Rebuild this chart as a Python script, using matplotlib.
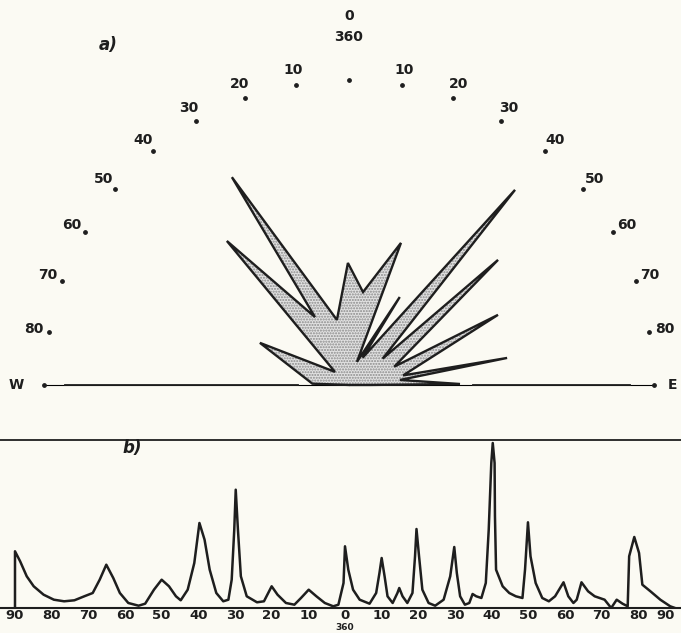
import numpy as np
import matplotlib
matplotlib.use("Agg")
import matplotlib.pyplot as plt

# ---------------- data ----------------
# a) rose outline vertices: azimuth (deg, W negative, E positive), radius (fraction of outer circle)
rose_az = [-88, -64.7, -47, -40.3, -26.6, -29.4, -10.5, -0.5, 8.6, 20.1, 19, 30, 26.6,
           40.4, 52, 50, 68, 64.8, 80, 80.3, 84.4, 89.5, 90, 90]
rose_r = [0.12, 0.323, 0.063, 0.619, 0.249, 0.782, 0.217, 0.40, 0.308, 0.496, 0.08, 0.333, 0.10,
          0.84, 0.14, 0.638, 0.16, 0.54, 0.18, 0.526, 0.168, 0.364, 0.07, 0.0]

# azimuth marks around the half circle
mark_az = list(range(-90, 91, 10))
mark_labels = ["W", "80", "70", "60", "50", "40", "30", "20", "10", "0\n360",
               "10", "20", "30", "40", "50", "60", "70", "80", "E"]

# E-W base line segments (azimuth, r start, r end)
base_left = (-90, 0.167, 0.931)
base_right = (90, 0.407, 0.921)

# b) linear profile: angle (deg, W negative) and frequency
prof_x = [-90, -90, -88.6, -86.8, -84.9, -82.2, -79.4, -76.6, -73.8, -71.1, -68.8, -66.9, -65.1,
          -63.2, -61.4, -59.1, -56.3, -54.5, -52.1, -50.0, -48.0, -46.1, -44.8, -42.9, -41.1,
          -39.7, -38.3, -36.9, -35.1, -33.2, -31.8, -30.9, -30.2, -29.8, -29.2, -28.4, -26.8,
          -24.0, -22.1, -20.0, -18.4, -16.1, -13.8, -12.0, -9.9, -7.8, -5.5, -3.2, -1.8, -0.4,
          0.0, 0.9, 2.2, 4.0, 6.7, 8.5, 9.4, 10.0, 10.8, 11.6, 13.0, 14.3, 14.8, 15.7, 17.0,
          18.4, 19.1, 19.5, 20.2, 21.1, 22.8, 24.6, 26.9, 28.7, 29.8, 30.5, 31.4, 32.7, 33.9,
          34.8, 35.8, 37.2, 38.4, 39.2, 39.9, 40.3, 40.8, 40.9, 41.2, 43.0, 44.8, 46.6, 48.4,
          49.1, 49.9, 50.6, 52.0, 53.8, 55.6, 57.3, 59.6, 60.9, 62.3, 63.2, 64.5, 66.3, 68.1,
          70.8, 72.6, 74.1, 75.7, 77.1, 77.5, 78.9, 80.2, 81.1, 83.3, 86.0, 88.7, 90.0]
prof_y = [0, 56.7, 46.7, 31.7, 21.7, 13.3, 8.3, 6.7, 7.7, 11.7, 15, 28.3, 43.3,
          30, 15, 5, 2.3, 4.3, 18.3, 28.3, 21.7, 11.7, 7.7, 18.3, 45,
          85, 68.3, 38.3, 15, 6.7, 8.3, 28.3, 78.3, 118.3, 78.3, 31.7, 11.7,
          5.7, 6.7, 21.7, 13.3, 5, 3.3, 10, 18.3, 11.7, 5, 1.7, 3.3, 25,
          61.7, 38.3, 18.3, 8.3, 4.3, 15, 35, 50, 31.7, 11.7, 5, 15, 20, 11.7, 5,
          15, 51.7, 79, 51.7, 18.3, 5, 2.3, 8.3, 31.7, 61, 35, 11.7, 3.3, 5,
          14, 11.7, 10, 25, 78.3, 145, 165, 145, 92, 38.3, 21.7, 15, 11.7, 10,
          38.3, 85.7, 51.7, 25, 10, 6.7, 11.7, 25.7, 11.7, 5, 8.3, 25.7, 16.7, 11.7,
          8.3, 0, 8.3, 4.3, 1.7, 51.7, 71, 55, 23.3, 16.7, 8.3, 1.7, 0]

tick_pos = list(range(-90, 91, 10))
tick_labels = ["90", "80", "70", "60", "50", "40", "30", "20", "10", "0",
               "10", "20", "30", "40", "50", "60", "70", "80", "90"]
center_sub_label = "360"

# ---------------- figure ----------------
bg = "#fbfaf3"
ink = "#1e1e1e"
fig = plt.figure(figsize=(6.81, 6.33), dpi=100, facecolor=bg)

# a) half rose  (square box: the half-disk is fitted into it, centred vertically)
axa = fig.add_axes([0.0646, 0.1509, 0.8957, 0.9637], projection="polar")
axa.set_facecolor(bg)
axa.set_theta_zero_location("N")
axa.set_theta_direction(-1)
axa.set_thetamin(-90)
axa.set_thetamax(90)
axa.set_ylim(0, 1)
axa.grid(False)
axa.set_xticks([])
axa.set_yticks([])
for s in axa.spines.values():
    s.set_visible(False)
axa.patch.set_alpha(0)

th = np.radians(rose_az)
axa.fill(th, rose_r, facecolor="#e2e2e2", hatch="......", edgecolor="#8a8a8a",
         linewidth=0, clip_on=False, zorder=2)
axa.fill(th, rose_r, facecolor="none", edgecolor=ink, linewidth=1.7,
         joinstyle="miter", clip_on=False, zorder=3)

for az, r0, r1 in (base_left, base_right):
    axa.plot([np.radians(az)] * 2, [r0, r1], color=ink, lw=1.3, clip_on=False, zorder=3)

axa.scatter(np.radians(mark_az), [1.0] * len(mark_az), s=6, color=ink, clip_on=False, zorder=4)
for az, lab in zip(mark_az, mark_labels):
    if lab.startswith("0"):
        r = 1.175
    elif lab == "W":
        r = 1.09
    elif lab == "E":
        r = 1.06
    else:
        r = 1.05
    axa.text(np.radians(az), r, lab, ha="center", va="center", fontsize=10,
             fontweight="bold", color=ink, linespacing=1.6, clip_on=False)

fig.text(0.159, 0.929, "a)", fontsize=12, fontweight="bold", fontstyle="italic",
         color=ink, ha="center", va="center")

# b) linear profile
axb = fig.add_axes([0.0, 0.0395, 1.0, 0.2654])
axb.set_facecolor(bg)
axb.plot(prof_x, prof_y, color=ink, lw=1.8, solid_joinstyle="round")
axb.set_xlim(-94.09, 91.64)
axb.set_ylim(0, 168)
axb.spines["left"].set_visible(False)
axb.spines["right"].set_visible(False)
axb.spines["top"].set_linewidth(1.3)
axb.spines["bottom"].set_linewidth(1.5)
axb.spines["top"].set_color(ink)
axb.spines["bottom"].set_color(ink)
axb.set_yticks([])
axb.set_xticks(tick_pos)
labs = axb.set_xticklabels(tick_labels, fontsize=9.5, fontweight="bold", color=ink)
labs[-1].set_horizontalalignment("right")
axb.tick_params(axis="x", length=0, pad=0.5)
axb.text(0, -0.1458, center_sub_label, transform=axb.get_xaxis_transform(), fontsize=6.5,
         fontweight="bold", color=ink, ha="center", va="bottom")
axb.text(0.194, 0.952, "b)", transform=axb.transAxes, fontsize=12, fontweight="bold",
         fontstyle="italic", color=ink, ha="center", va="center")

fig.savefig("out.png", dpi=100, facecolor=bg)
